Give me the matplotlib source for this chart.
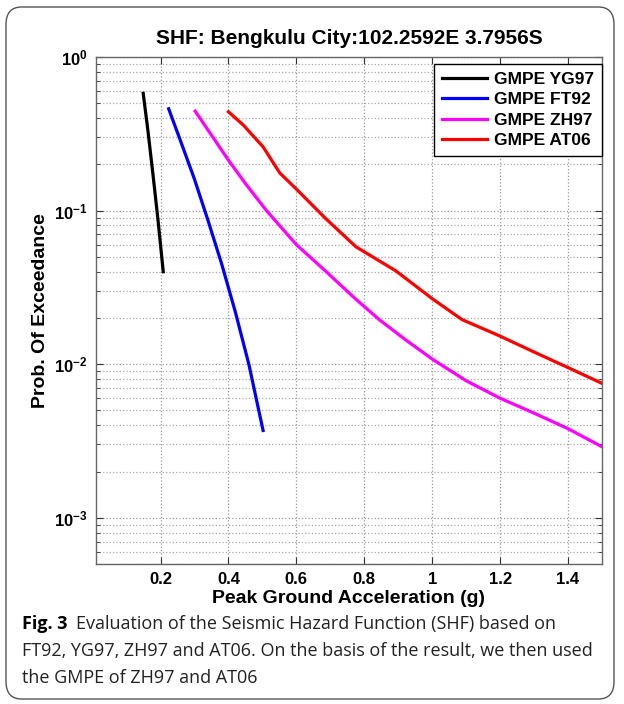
import matplotlib
matplotlib.use("Agg")
import matplotlib.pyplot as plt
from matplotlib.patches import FancyBboxPatch
from matplotlib.ticker import LogLocator, FixedLocator, NullFormatter

yg97_x = [0.149, 0.163, 0.178, 0.193, 0.208]
yg97_y = [0.58, 0.33, 0.17, 0.085, 0.040]

ft92_x = [0.224, 0.260, 0.300, 0.340, 0.380, 0.420, 0.460, 0.502]
ft92_y = [0.46, 0.28, 0.16, 0.086, 0.045, 0.022, 0.010, 0.0037]

zh97_x = [0.302, 0.350, 0.400, 0.450, 0.512, 0.600, 0.688, 0.771, 0.844, 0.920,
          1.000, 1.100, 1.200, 1.300, 1.400, 1.500]
zh97_y = [0.444, 0.31, 0.213, 0.150, 0.100, 0.060, 0.040, 0.027, 0.0195, 0.0145,
          0.0108, 0.0078, 0.0060, 0.0048, 0.0038, 0.0029]

at06_x = [0.400, 0.444, 0.502, 0.551, 0.600, 0.688, 0.776, 0.893, 1.000, 1.088,
          1.195, 1.300, 1.400, 1.500]
at06_y = [0.44, 0.36, 0.26, 0.176, 0.138, 0.088, 0.058, 0.0405, 0.0267, 0.0195,
          0.0154, 0.0120, 0.0095, 0.0075]

series = [
    ("GMPE YG97", yg97_x, yg97_y, "black"),
    ("GMPE FT92", ft92_x, ft92_y, "#0000ff"),
    ("GMPE ZH97", zh97_x, zh97_y, "#ff00ff"),
    ("GMPE AT06", at06_x, at06_y, "#ff0000"),
]

x_ticks = [0.2, 0.4, 0.6, 0.8, 1.0, 1.2, 1.4]
x_tick_labels = ["0.2", "0.4", "0.6", "0.8", "1", "1.2", "1.4"]
y_ticks = [1e-3, 1e-2, 1e-1, 1e0]
y_tick_labels = [r"$\mathbf{10^{-3}}$", r"$\mathbf{10^{-2}}$",
                 r"$\mathbf{10^{-1}}$", r"$\mathbf{10^{0}}$"]

plt.rcParams["font.family"] = ["Liberation Sans", "DejaVu Sans"]
plt.rcParams["mathtext.fontset"] = "custom"
plt.rcParams["mathtext.rm"] = "Liberation Sans"
plt.rcParams["mathtext.bf"] = "Liberation Sans:bold"

W, H = 624, 704
fig = plt.figure(figsize=(W / 100, H / 100), dpi=100)
fig.patch.set_facecolor("white")

# rounded frame around figure and caption
frame = FancyBboxPatch((6 / W, 5 / H), (614 - 6) / W, (697 - 5) / H,
                       boxstyle="round,pad=0,rounding_size=0.025",
                       transform=fig.transFigure, facecolor="none",
                       edgecolor="#555555", linewidth=1.0)
fig.patches.append(frame)

left, right, top, bottom = 96, 602, 57, 564
ax = fig.add_axes([left / W, (H - bottom) / H, (right - left) / W, (bottom - top) / H])

for label, xs, ys, color in series:
    ax.plot(xs, ys, color=color, linewidth=2.3, label=label)

ax.set_yscale("log")
ax.set_xlim(0.01, 1.5)
ax.set_ylim(5e-4, 1)

ax.xaxis.set_major_locator(FixedLocator(x_ticks))
ax.set_xticklabels(x_tick_labels, fontsize=12, fontweight="bold")
ax.yaxis.set_major_locator(FixedLocator(y_ticks))
ax.set_yticklabels(y_tick_labels, fontsize=12)
ax.yaxis.set_minor_locator(LogLocator(base=10, subs=range(2, 10)))
ax.yaxis.set_minor_formatter(NullFormatter())

ax.tick_params(which="both", direction="in", top=True, right=True, colors="#333333",
               labelcolor="black")
ax.tick_params(which="major", length=5, pad=6)
ax.tick_params(which="minor", length=3)

ax.grid(True, which="major", linestyle=":", color="#999999", linewidth=0.9)
ax.grid(True, which="minor", axis="y", linestyle=":", color="#aaaaaa", linewidth=0.9)
ax.set_axisbelow(True)
for sp in ax.spines.values():
    sp.set_color("#666666")
    sp.set_linewidth(1.0)

ax.set_title("SHF: Bengkulu City:102.2592E 3.7956S", fontsize=15, fontweight="bold", pad=9)
ax.set_xlabel("Peak Ground Acceleration (g)", fontsize=14, fontweight="bold", labelpad=2)
ax.set_ylabel("Prob. Of Exceedance", fontsize=14, fontweight="bold", labelpad=4)

leg = ax.legend(loc="upper right", bbox_to_anchor=(1.0, (bottom - 64) / (bottom - top)),
                borderaxespad=0, prop={"weight": "bold", "size": 12.5},
                handlelength=2.6, handletextpad=0.4, labelspacing=0.3,
                borderpad=0.45, fancybox=False, framealpha=1)
leg.get_frame().set_edgecolor("black")
leg.get_frame().set_linewidth(1.0)

# caption
cap_font = ["Open Sans", "DejaVu Sans"]
cap_size = 13
cx = 22 / W
t = fig.text(cx, 1 - 624 / H, "Fig. 3", fontsize=cap_size, fontweight="bold",
             family=cap_font, va="center", ha="left")
fig.canvas.draw()
bb = t.get_window_extent(renderer=fig.canvas.get_renderer())
fig.text(bb.x1 / W + 9 / W, 1 - 624 / H,
         "Evaluation of the Seismic Hazard Function (SHF) based on",
         fontsize=cap_size, family=cap_font, va="center", ha="left", color="#222222")
fig.text(cx, 1 - 651 / H,
         "FT92, YG97, ZH97 and AT06. On the basis of the result, we then used",
         fontsize=cap_size, family=cap_font, va="center", ha="left", color="#222222")
fig.text(cx, 1 - 678 / H, "the GMPE of ZH97 and AT06",
         fontsize=cap_size, family=cap_font, va="center", ha="left", color="#222222")

fig.savefig("out.png", dpi=100, facecolor="white")
